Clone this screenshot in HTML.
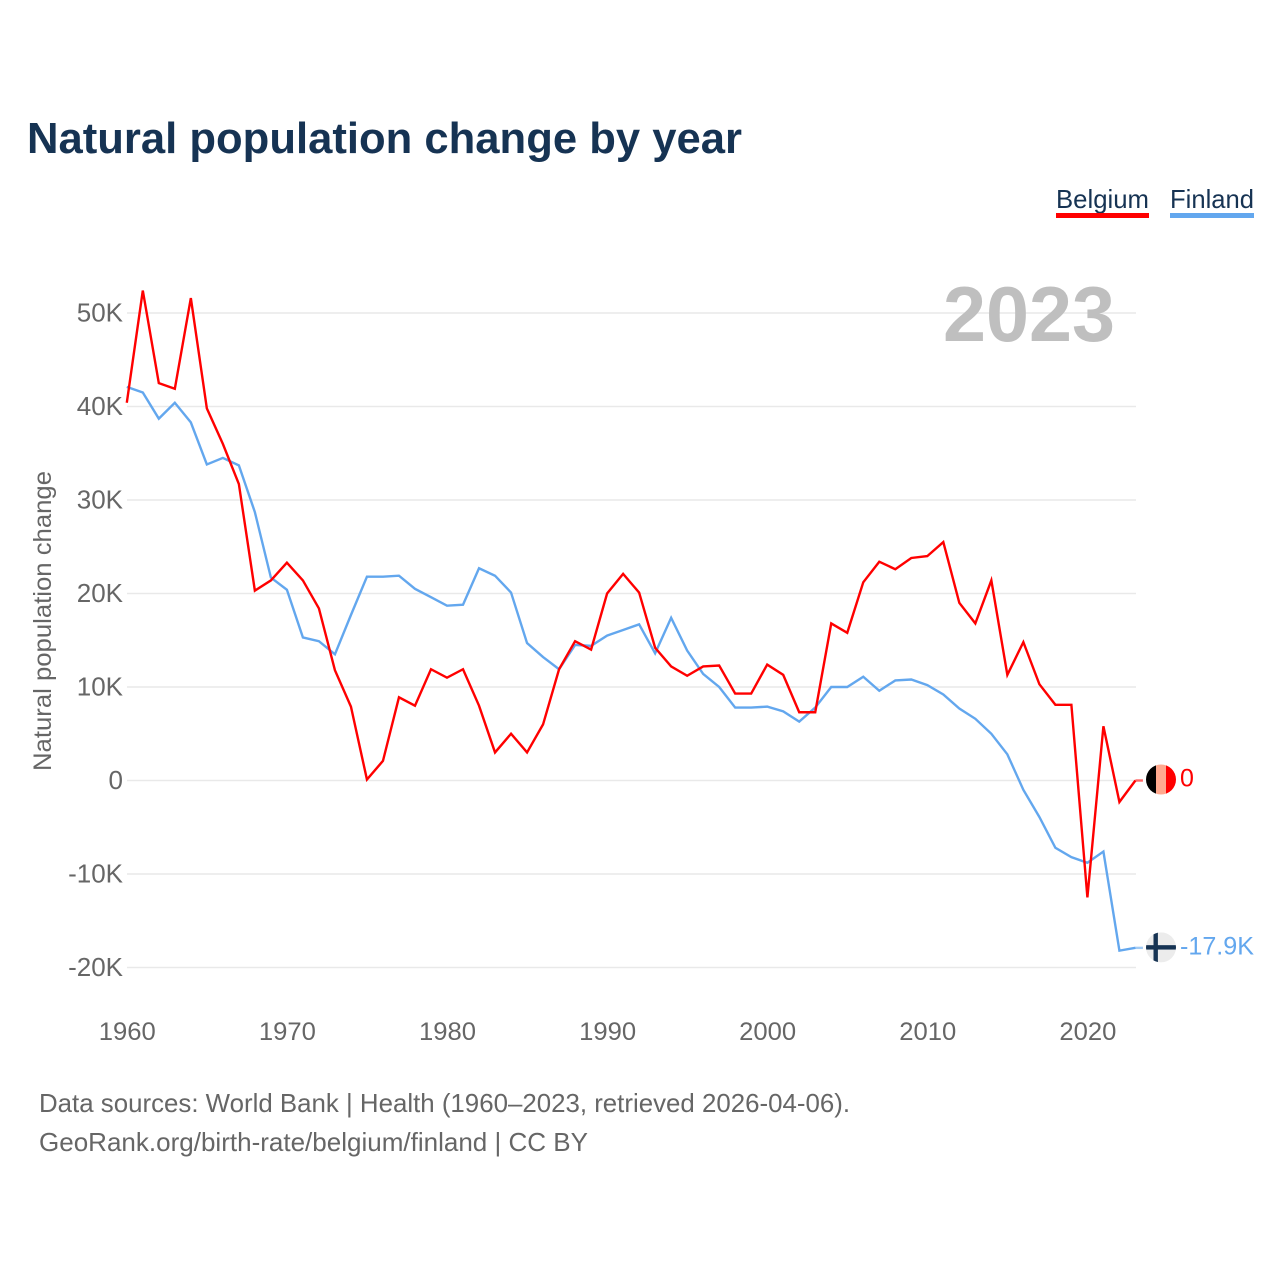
<!DOCTYPE html>
<html lang="en">
<head>
<meta charset="utf-8">
<title>Natural population change by year</title>
<style>
html,body{margin:0;padding:0;background:#fff;width:1280px;height:1280px;overflow:hidden}
svg{display:block}
text{font-family:"Liberation Sans",sans-serif}
</style>
</head>
<body>
<svg id="chart" xmlns="http://www.w3.org/2000/svg" width="1280" height="1280" viewBox="0 0 1280 1280">
  <text x="27" y="153" font-size="44" font-weight="700" fill="#163353" textLength="715" lengthAdjust="spacingAndGlyphs">Natural population change by year</text>
  <g>
    <text x="1056" y="208" font-size="26" fill="#163353" textLength="93" lengthAdjust="spacingAndGlyphs">Belgium</text>
    <rect x="1056" y="213" width="93" height="5" fill="#ff0000"/>
  </g>
  <g>
    <text x="1170" y="208" font-size="26" fill="#163353" textLength="84" lengthAdjust="spacingAndGlyphs">Finland</text>
    <rect x="1170" y="213" width="84" height="5" fill="#63a7ee"/>
  </g>
  <g id="grid"></g>
  <g id="yticks"></g>
  <g id="xticks"></g>
  <text x="1115" y="341" text-anchor="end" font-size="78" font-weight="700" fill="#bfbfbf" textLength="172" lengthAdjust="spacingAndGlyphs">2023</text>
  <text transform="translate(51,621) rotate(-90)" text-anchor="middle" font-size="25" fill="#666666" textLength="300" lengthAdjust="spacingAndGlyphs">Natural population change</text>
  <g id="series"></g>
  <g id="ends"></g>
  <text x="39" y="1112" font-size="26" fill="#666666" textLength="811" lengthAdjust="spacingAndGlyphs">Data sources: World Bank | Health (1960–2023, retrieved 2026-04-06).</text>
  <text x="39" y="1151" font-size="26" fill="#666666" textLength="549" lengthAdjust="spacingAndGlyphs">GeoRank.org/birth-rate/belgium/finland | CC BY</text>
</svg>
<script>
const startYear = 1960;
const belgiumValues = [40.4,52.4,42.5,41.9,51.6,39.8,36.0,31.7,20.3,21.4,23.3,21.4,18.4,11.8,7.9,0.1,2.1,8.9,8.0,11.9,11.0,11.9,8.0,3.0,5.0,3.0,6.0,11.9,14.9,14.0,20.0,22.1,20.1,14.2,12.2,11.2,12.2,12.3,9.3,9.3,12.4,11.3,7.3,7.3,16.8,15.8,21.2,23.4,22.6,23.8,24.0,25.5,19.0,16.8,21.4,11.3,14.8,10.3,8.1,8.1,-12.5,5.8,-2.3,0];
const finlandValues = [42.1,41.5,38.7,40.4,38.3,33.8,34.5,33.7,28.7,21.7,20.4,15.3,14.9,13.5,17.7,21.8,21.8,21.9,20.5,19.6,18.7,18.8,22.7,21.9,20.1,14.7,13.2,11.9,14.5,14.4,15.5,16.1,16.7,13.6,17.4,13.9,11.4,10.0,7.8,7.8,7.9,7.4,6.3,7.8,10.0,10.0,11.1,9.6,10.7,10.8,10.2,9.2,7.7,6.6,5.0,2.8,-1.0,-3.9,-7.2,-8.2,-8.8,-7.6,-18.2,-17.9];
const yTickValues = [50,40,30,20,10,0,-10,-20];
const yTickLabels = ["50K","40K","30K","20K","10K","0","-10K","-20K"];
const xTickYears = [1960,1970,1980,1990,2000,2010,2020];
const belgiumEndLabel = "0";
const finlandEndLabel = "-17.9K";

const NS = "http://www.w3.org/2000/svg";
const xOf = function (year) { return 126.8 + (year - 1960) * 16.01; };
const yOf = function (v) { return 780.5 - v * 9.35; };
const RED = "#ff0000", BLUE = "#63a7ee";

function mk(tag, attrs, parent) {
  const el = document.createElementNS(NS, tag);
  for (const k in attrs) el.setAttribute(k, attrs[k]);
  parent.appendChild(el);
  return el;
}

const grid = document.getElementById("grid");
const yticks = document.getElementById("yticks");
yTickValues.forEach(function (v, i) {
  const line = mk("line", {x1: 127, x2: 1136, y1: yOf(v), y2: yOf(v), stroke: "#e9e9e9", "stroke-width": 1.5}, grid);
  
  
  const t = mk("text", {x: 123, y: yOf(v) + 8.5, "text-anchor": "end", "font-size": 26, fill: "#666666"}, yticks);
  
  
  t.textContent = yTickLabels[i];
});

const xticks = document.getElementById("xticks");
xTickYears.forEach(function (yr) {
  const t = mk("text", {x: xOf(yr) + 0.5, y: 1040, "text-anchor": "middle", "font-size": 25, fill: "#666666", textLength: 57, lengthAdjust: "spacingAndGlyphs"}, xticks);
  
  
  t.textContent = String(yr);
});

const series = document.getElementById("series");
function drawLine(values, color, name) {
  const pts = values.map(function (v, i) { return xOf(startYear + i) + "," + yOf(v); }).join(" ");
  const p = mk("polyline", {points: pts, fill: "none", stroke: color, "stroke-width": 2.4, "stroke-linejoin": "miter"}, series);
  
  
  const lastY = yOf(values[values.length - 1]);
  const lastX = xOf(startYear + values.length - 1);
  const tail = mk("line", {x1: lastX, x2: lastX + 7.5, y1: lastY, y2: lastY, stroke: color, "stroke-width": 2.4, opacity: 0.6}, series);
  
  
}
drawLine(finlandValues, BLUE, "finland-line");
drawLine(belgiumValues, RED, "belgium-line");

const ends = document.getElementById("ends");
const defs = mk("defs", {}, ends);
const markerX = 1161;
const belY = yOf(belgiumValues[belgiumValues.length - 1]) - 1;
const finY = yOf(finlandValues[finlandValues.length - 1]) - 0.5;
const clipB = mk("clipPath", {id: "clip-be"}, defs);
mk("circle", {cx: markerX, cy: belY, r: 15}, clipB);
const clipF = mk("clipPath", {id: "clip-fi"}, defs);
mk("circle", {cx: markerX, cy: finY, r: 15}, clipF);

const flagB = mk("g", {"clip-path": "url(#clip-be)"}, ends);


mk("rect", {x: markerX - 15, y: belY - 15, width: 10, height: 30, fill: "#000000"}, flagB);
mk("rect", {x: markerX - 5, y: belY - 15, width: 10, height: 30, fill: "#ffa98f"}, flagB);
mk("rect", {x: markerX + 5, y: belY - 15, width: 10, height: 30, fill: "#ff0000"}, flagB);

const flagF = mk("g", {"clip-path": "url(#clip-fi)"}, ends);


mk("rect", {x: markerX - 15, y: finY - 15, width: 30, height: 30, fill: "#ececec"}, flagF);
mk("rect", {x: markerX - 15, y: finY - 2.2, width: 30, height: 4.4, fill: "#163353"}, flagF);
mk("rect", {x: markerX - 7.5, y: finY - 15, width: 4.4, height: 30, fill: "#163353"}, flagF);

const lb = mk("text", {x: 1180, y: belY + 7, "font-size": 25, fill: RED}, ends);


lb.textContent = belgiumEndLabel;
const lf = mk("text", {x: 1180, y: finY + 7, "font-size": 25, fill: BLUE, textLength: 74, lengthAdjust: "spacingAndGlyphs"}, ends);


lf.textContent = finlandEndLabel;
</script>
</body>
</html>
